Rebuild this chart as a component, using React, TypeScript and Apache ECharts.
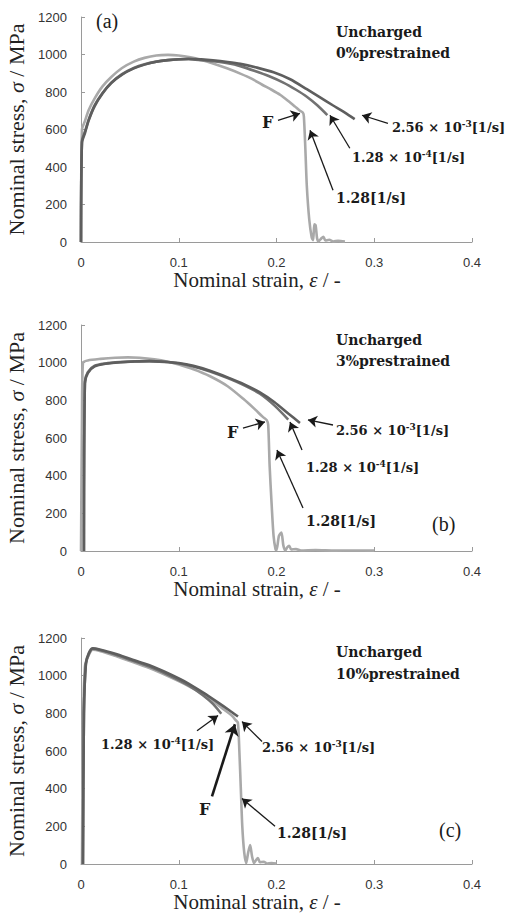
import React, { useEffect, useRef } from "react";
import * as echarts from "echarts";

// ---- Panel (a): uncharged, 0% prestrained ----
const aFast: [number, number][] = [
  [0, 0], [0.001, 600], [0.004, 645], [0.008, 705], [0.014, 766], [0.022, 830], [0.031, 880],
  [0.042, 928], [0.054, 962], [0.065, 982], [0.077, 995], [0.089, 998], [0.1, 995], [0.112, 985],
  [0.123, 971], [0.135, 952], [0.15, 925], [0.163, 898], [0.175, 870], [0.185, 840], [0.195, 812],
  [0.204, 784], [0.212, 752], [0.219, 722], [0.224, 700], [0.227, 690], [0.228, 670], [0.2295, 500],
  [0.231, 300], [0.2335, 120], [0.236, 25], [0.2375, 10], [0.2387, 95], [0.24, 90], [0.2415, 20],
  [0.243, 3], [0.246, 20], [0.248, 28], [0.25, 8], [0.254, 12], [0.258, 3], [0.263, 6], [0.27, 2],
];
const aMid: [number, number][] = [
  [0, 0], [0.001, 540], [0.004, 588], [0.008, 655], [0.014, 730], [0.022, 795], [0.031, 850],
  [0.042, 895], [0.054, 928], [0.065, 948], [0.077, 962], [0.089, 970], [0.1, 974], [0.11, 975],
  [0.123, 970], [0.135, 964], [0.15, 953], [0.163, 938], [0.178, 912], [0.192, 885], [0.207, 850],
  [0.22, 812], [0.231, 775], [0.242, 728], [0.252, 677],
];
const aSlow: [number, number][] = [
  [0, 0], [0.001, 530], [0.004, 580], [0.008, 650], [0.014, 725], [0.022, 792], [0.031, 848],
  [0.042, 893], [0.054, 926], [0.065, 946], [0.077, 961], [0.089, 970], [0.1, 975], [0.11, 977],
  [0.123, 974], [0.135, 969], [0.15, 960], [0.163, 950], [0.18, 930], [0.197, 905], [0.214, 868],
  [0.231, 815], [0.245, 770], [0.258, 728], [0.27, 690], [0.28, 655],
];

// ---- Panel (b): uncharged, 3% prestrained ----
const bFast: [number, number][] = [
  [0, 0], [0.001, 700], [0.002, 1000], [0.007, 1012], [0.02, 1020], [0.035, 1026], [0.048, 1028],
  [0.06, 1026], [0.075, 1018], [0.089, 1005], [0.1, 990], [0.115, 965], [0.132, 928], [0.15, 875],
  [0.166, 808], [0.178, 752], [0.186, 712], [0.19, 695], [0.1915, 670], [0.193, 450], [0.195, 250],
  [0.197, 80], [0.199, 10], [0.2, 5], [0.2025, 80], [0.205, 98], [0.207, 30], [0.209, 3], [0.211, 20],
  [0.213, 28], [0.215, 8], [0.22, 10], [0.225, 3], [0.24, 5], [0.26, 2], [0.28, 3], [0.3, 2],
];
const bMid: [number, number][] = [
  [0.003, 0], [0.004, 900], [0.007, 950], [0.014, 984], [0.025, 996], [0.04, 1003], [0.055, 1007],
  [0.07, 1008], [0.085, 1004], [0.1, 996], [0.115, 980], [0.132, 953], [0.15, 918], [0.167, 880],
  [0.183, 835], [0.198, 772], [0.212, 698],
];
const bSlow: [number, number][] = [
  [0.003, 0], [0.004, 890], [0.007, 945], [0.014, 980], [0.025, 994], [0.04, 1002], [0.055, 1006],
  [0.07, 1008], [0.085, 1005], [0.1, 998], [0.115, 983], [0.132, 957], [0.15, 922], [0.167, 885],
  [0.183, 842], [0.198, 790], [0.212, 730], [0.224, 680],
];

// ---- Panel (c): uncharged, 10% prestrained ----
const cFast: [number, number][] = [
  [0.001, 0], [0.002, 700], [0.004, 1050], [0.008, 1110], [0.012, 1138], [0.02, 1130], [0.035, 1105],
  [0.05, 1078], [0.07, 1040], [0.09, 995], [0.11, 945], [0.13, 885], [0.145, 825], [0.155, 785],
  [0.158, 765], [0.1605, 750], [0.162, 600], [0.1635, 400], [0.165, 200], [0.167, 60], [0.169, 5],
  [0.171, 60], [0.173, 100], [0.175, 40], [0.177, 5], [0.179, 20], [0.181, 32], [0.183, 10],
  [0.187, 12], [0.19, 3], [0.195, 5], [0.2, 2],
];
const cMid: [number, number][] = [
  [0.002, 0], [0.003, 800], [0.005, 1060], [0.008, 1115], [0.012, 1143], [0.02, 1135], [0.035, 1112],
  [0.05, 1085], [0.07, 1048], [0.09, 1002], [0.11, 948], [0.125, 895], [0.135, 850], [0.1435, 798],
];
const cSlow: [number, number][] = [
  [0.002, 0], [0.003, 800], [0.005, 1065], [0.008, 1120], [0.012, 1145], [0.02, 1138], [0.035, 1116],
  [0.05, 1090], [0.07, 1055], [0.09, 1010], [0.11, 958], [0.125, 910], [0.14, 858], [0.152, 815],
  [0.1606, 783],
];

// tick labels
const xTicks = ["0", "0.1", "0.2", "0.3", "0.4"];

// annotation arrows per panel: [fromStrain, fromStress, toStrain, toStress]
const aArrows: number[][] = [
  [0.2015, 649, 0.224, 686],
  [0.314, 633, 0.2875, 676],
  [0.275, 500, 0.2547, 676],
  [0.2578, 276, 0.2343, 596],
];
const bArrows: number[][] = [
  [0.1657, 653, 0.1882, 685],
  [0.2578, 669, 0.2322, 696],
  [0.2261, 536, 0.2138, 685],
  [0.2271, 228, 0.2005, 536],
];
const cArrows: number[][] = [
  [0.1187, 708, 0.1402, 788],
  [0.1852, 650, 0.1647, 756],
  [0.1985, 200, 0.1647, 348],
];
const cThickArrow: number[][] = [[0.134, 359, 0.1575, 742]];

const FAST = "#a9a9a9";
const MID = "#727272";
const SLOW = "#5e5e5e";
const SERIF = "'Liberation Serif', 'Times New Roman', serif";
const ANN = "'DejaVu Serif', serif";

const grids = [
  { left: 81, top: 17, width: 391, height: 225 },
  { left: 81, top: 325, width: 391, height: 226 },
  { left: 81, top: 638, width: 391, height: 226 },
];

function arrowLines(arr: number[][]) {
  return arr.map((a) => [{ coord: [a[0], a[1]] }, { coord: [a[2], a[3]] }]);
}

export default function App() {
  const ref = useRef<HTMLDivElement>(null);
  useEffect(() => {
    if (!ref.current) return;
    const chart = echarts.init(ref.current, null, { renderer: "svg" });

    const xAxes = grids.map((_, i) => ({
      type: "value",
      gridIndex: i,
      min: 0,
      max: 0.4,
      interval: 0.1,
      name: "Nominal strain, {i|ε} / -",
      nameLocation: "middle",
      nameGap: 27,
      nameTextStyle: {
        fontFamily: SERIF,
        fontSize: 21,
        color: "#222",
        padding: [0, 39, 0, 0],
        rich: { i: { fontFamily: SERIF, fontStyle: "italic", fontSize: 21, color: "#222" } },
      },
      axisLine: { lineStyle: { color: "#9a9a9a", width: 1 } },
      axisTick: { show: true, inside: true, length: 4, lineStyle: { color: "#9a9a9a" } },
      splitLine: { show: false },
      axisLabel: {
        margin: 14,
        color: "#333",
        fontFamily: "'Liberation Sans', Arial, sans-serif",
        fontSize: 13,
        formatter: (v: number) => xTicks[Math.round(v * 10)] ?? String(v),
      },
    }));
    const yAxes = grids.map((_, i) => ({
      type: "value",
      gridIndex: i,
      min: 0,
      max: 1200,
      interval: 200,
      name: "Nominal stress, {i|σ} / MPa",
      nameLocation: "middle",
      nameGap: 50,
      nameTextStyle: {
        fontFamily: SERIF,
        fontSize: 22,
        color: "#222",
        rich: { i: { fontFamily: SERIF, fontStyle: "italic", fontSize: 22, color: "#222" } },
      },
      axisLine: { show: true, lineStyle: { color: "#9a9a9a", width: 1 } },
      axisTick: { show: true, inside: true, length: 4, lineStyle: { color: "#9a9a9a" } },
      splitLine: { show: false },
      axisLabel: {
        margin: 14,
        color: "#333",
        fontFamily: "'Liberation Sans', Arial, sans-serif",
        fontSize: 13,
        formatter: (v: number) => String(Math.round(v)),
      },
    }));

    const mk = (data: [number, number][], color: string, idx: number, z: number, extra: any = {}) => ({
      type: "line",
      xAxisIndex: idx,
      yAxisIndex: idx,
      data,
      showSymbol: false,
      symbol: "none",
      smooth: 0.25,
      z,
      lineStyle: { color, width: 2.6 },
      ...extra,
    });

    const arrowMark = (arr: number[][], width: number, size: number) => ({
      silent: true,
      symbol: ["none", "arrow"],
      symbolSize: size,
      label: { show: false },
      lineStyle: { color: "#1a1a1a", width, type: "solid" },
      data: arrowLines(arr),
    });

    const series: any[] = [
      mk(aFast, FAST, 0, 2),
      mk(aMid, MID, 0, 3),
      mk(aSlow, SLOW, 0, 3, { markLine: arrowMark(aArrows, 1.3, 9) }),
      mk(bFast, FAST, 1, 2),
      mk(bMid, MID, 1, 3),
      mk(bSlow, SLOW, 1, 3, { markLine: arrowMark(bArrows, 1.3, 9) }),
      mk(cFast, FAST, 2, 2),
      mk(cMid, MID, 2, 3, { markLine: arrowMark(cThickArrow, 2.6, 11) }),
      mk(cSlow, SLOW, 2, 3, { markLine: arrowMark(cArrows, 1.3, 9) }),
    ];

    const bold = (text: string, x: number, y: number, size = 14) => ({
      type: "text",
      x,
      y,
      style: { text, font: `bold ${size}px ${ANN}`, fill: "#1a1a1a", verticalAlign: "top" },
    });
    const plain = (text: string, x: number, y: number, size = 20) => ({
      type: "text",
      x,
      y,
      style: { text, font: `${size}px ${SERIF}`, fill: "#1a1a1a", verticalAlign: "top" },
    });
    const rate = (base: string, sup: string, x: number, y: number) => ({
      type: "text",
      x,
      y,
      style: {
        text: `{n|${base}}{s|${sup}}{n|[1/s]}`,
        verticalAlign: "top",
        rich: {
          n: { fontFamily: ANN, fontWeight: "bold", fontSize: 13, fill: "#1a1a1a", lineHeight: 16 },
          s: { fontFamily: ANN, fontWeight: "bold", fontSize: 9, fill: "#1a1a1a", verticalAlign: "top", lineHeight: 16 },
        },
      },
    });

    const graphic: any[] = [
      plain("(a)", 96, 11),
      bold("Uncharged", 336, 25),
      bold("0%prestrained", 336, 46),
      bold("F", 262, 114, 16),
      rate("2.56 × 10", "-3", 392, 119),
      rate("1.28 × 10", "-4", 352, 149),
      bold("1.28[1/s]", 336, 191),

      bold("Uncharged", 336, 333),
      bold("3%prestrained", 336, 354),
      bold("F", 227, 424, 16),
      rate("2.56 × 10", "-3", 336, 422),
      rate("1.28 × 10", "-4", 306, 459),
      bold("1.28[1/s]", 306, 514),
      plain("(b)", 432, 514),

      bold("Uncharged", 336, 645),
      bold("10%prestrained", 336, 667),
      rate("1.28 × 10", "-4", 101, 736),
      rate("2.56 × 10", "-3", 262, 739),
      bold("F", 199, 801, 16),
      bold("1.28[1/s]", 277, 826),
      plain("(c)", 439, 820),
    ];

    chart.setOption({
      animation: false,
      backgroundColor: "#ffffff",
      grid: grids.map((g) => ({ ...g, containLabel: false, outerBoundsMode: "none" })),
      xAxis: xAxes,
      yAxis: yAxes,
      series,
      graphic,
    } as any);

    return () => chart.dispose();
  }, []);

  return (
    <div
      ref={ref}
      style={{ position: "fixed", left: 0, top: 0, width: 510, height: 913, background: "#fff" }}
    />
  );
}
